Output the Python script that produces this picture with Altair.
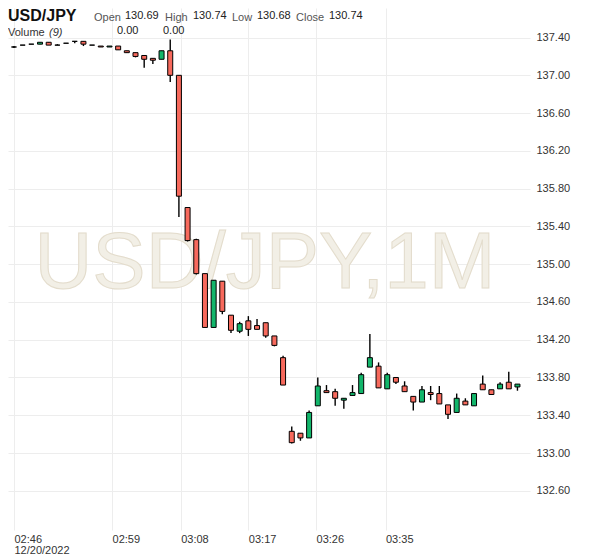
import json
import altair as alt
import pandas as pd

# ---- data (1-minute candles, in order) ----
opens = [137.30, 137.32, 137.33, 137.33, 137.35, 137.32, 137.34, 137.36, 137.36, 137.32,
         137.31, 137.30, 137.31, 137.26, 137.24, 137.21, 137.18, 137.17, 137.26, 137.00,
         135.60, 135.26, 134.90, 134.33, 134.82, 134.46, 134.29, 134.40, 134.35, 134.38,
         134.24, 134.01, 133.23, 133.21, 133.16, 133.50, 133.66, 133.65, 133.56, 133.61,
         133.63, 133.91, 133.92, 133.68, 133.80, 133.71, 133.60, 133.54, 133.64, 133.63,
         133.51, 133.43, 133.55, 133.50, 133.73, 133.67, 133.68, 133.75, 133.70]
highs = [137.31, 137.32, 137.33, 137.35, 137.35, 137.33, 137.34, 137.36, 137.36, 137.32,
         137.31, 137.31, 137.31, 137.26, 137.24, 137.21, 137.18, 137.26, 137.38, 137.00,
         135.60, 135.27, 134.90, 134.83, 134.82, 134.46, 134.39, 134.45, 134.42, 134.38,
         134.24, 134.03, 133.28, 133.21, 133.45, 133.80, 133.72, 133.68, 133.58, 133.72,
         133.85, 134.26, 133.96, 133.85, 133.80, 133.76, 133.60, 133.71, 133.71, 133.71,
         133.51, 133.63, 133.58, 133.63, 133.82, 133.67, 133.75, 133.86, 133.73]
lows = [137.29, 137.32, 137.33, 137.33, 137.32, 137.32, 137.34, 137.34, 137.31, 137.32,
        137.30, 137.30, 137.27, 137.24, 137.19, 137.08, 137.12, 137.17, 136.93, 135.50,
        135.24, 134.89, 134.33, 134.33, 134.47, 134.27, 134.27, 134.24, 134.31, 134.22,
        134.13, 133.72, 133.10, 133.13, 133.16, 133.50, 133.64, 133.50, 133.47, 133.61,
        133.63, 133.91, 133.69, 133.68, 133.73, 133.65, 133.45, 133.54, 133.56, 133.52,
        133.36, 133.43, 133.51, 133.50, 133.67, 133.62, 133.68, 133.68, 133.66]
closes = [137.30, 137.32, 137.33, 137.35, 137.32, 137.32, 137.34, 137.36, 137.33, 137.32,
          137.30, 137.31, 137.27, 137.24, 137.20, 137.17, 137.16, 137.26, 137.00, 135.72,
          135.25, 134.90, 134.33, 134.83, 134.50, 134.30, 134.37, 134.31, 134.31, 134.24,
          134.14, 133.72, 133.11, 133.16, 133.43, 133.71, 133.64, 133.58, 133.58, 133.64,
          133.83, 134.01, 133.69, 133.83, 133.75, 133.65, 133.54, 133.67, 133.62, 133.52,
          133.41, 133.58, 133.51, 133.63, 133.67, 133.62, 133.73, 133.68, 133.73]

tick_index = [0, 11.3, 19.2, 27.0, 34.8, 42.8]
tick_labels = [["02:46", "12/20/2022"], ["02:59"], ["03:08"], ["03:17"], ["03:26"], ["03:35"]]
y_ticks = [132.6, 133.0, 133.4, 133.8, 134.2, 134.6, 135.0, 135.4, 135.8, 136.2, 136.6, 137.0, 137.4]

symbol = "USD/JPY"
watermark = "USD/JPY,1M"
ohlc_names = ["Open", "High", "Low", "Close"]
ohlc_values = ["130.69", "130.74", "130.68", "130.74"]
volume_label = "Volume"
volume_count = "(9)"
volume_values = ["0.00", "0.00"]

df = pd.DataFrame({"i": list(range(len(opens))), "o": opens, "h": highs, "l": lows, "c": closes})

RED = "#f7695c"
GREEN = "#12b66b"
FONT = "Liberation Sans"

label_expr = ""
for p, t in zip(tick_index, tick_labels):
    label_expr += f"datum.value == {p} ? {json.dumps(t)} : "
label_expr += "''"

x_enc = alt.X("i:Q", scale=alt.Scale(domain=[-0.113, 58.87], nice=False, zero=False),
              axis=alt.Axis(values=tick_index, labelExpr=label_expr, title=None, grid=True,
                            gridColor="#ededed", ticks=False, domain=False, labelAlign="left",
                            labelBaseline="top", labelPadding=3, labelFontSize=11,
                            labelLineHeight=11, labelColor="#333", labelFont=FONT,
                            labelOverlap=False, labelFlush=False))
y_scale = alt.Scale(domain=[132.185, 137.713], nice=False, zero=False)
y_axis = alt.Axis(values=y_ticks, format=".2f", orient="right", title=None, grid=True,
                  gridColor="#ededed", ticks=False, domain=False, labelPadding=6,
                  labelFontSize=11, labelColor="#333", labelFont=FONT)

base = alt.Chart(df)

wicks = base.mark_rule(color="black", strokeWidth=1.4).encode(
    x=x_enc, y=alt.Y("l:Q", scale=y_scale, axis=y_axis), y2="h:Q")
bodies = base.mark_bar(size=5, stroke="black", strokeWidth=1).encode(
    x=x_enc, y=alt.Y("o:Q", scale=y_scale, axis=y_axis), y2="c:Q",
    fill=alt.condition("datum.c >= datum.o", alt.value(GREEN), alt.value(RED)))


def txt(s, x, y, **kw):
    props = dict(text=s, font=FONT, align="left", baseline="middle")
    props.update(kw)
    return alt.Chart(alt.Data(values=[{}])).mark_text(**props).encode(
        x=alt.value(x), y=alt.value(y))


wm = txt(watermark, 257, 256, fontSize=80, align="center", fill="#f2efe6",
         stroke="#e3dccc", strokeWidth=1)

header = [txt(symbol, 0, 0, fontSize=16, fontWeight="bold", baseline="top", color="#111")]
name_x = [86, 157, 224, 288]
val_x = [117, 185, 249, 321]
for n, v, nx, vx in zip(ohlc_names, ohlc_values, name_x, val_x):
    header.append(txt(n, nx, 10, fontSize=11, color="#555"))
    header.append(txt(v, vx, 8, fontSize=11, color="#222"))
header.append(txt(volume_label, 0, 25, fontSize=11, color="#333"))
header.append(txt(volume_count, 41, 25, fontSize=11, color="#333", fontStyle="italic"))
for v, vx in zip(volume_values, [109, 155]):
    header.append(txt(v, vx, 23, fontSize=11, color="#222"))

chart = alt.layer(wm, wicks, bodies, *header).properties(
    width=522, height=522,
    autosize=alt.AutoSizeParams(type="none"),
    padding={"left": 0, "top": 0, "right": 62, "bottom": 26},
    background="white",
).configure_view(strokeWidth=0)

chart.save("out.html", embed_options={"renderer": "svg", "actions": False})
